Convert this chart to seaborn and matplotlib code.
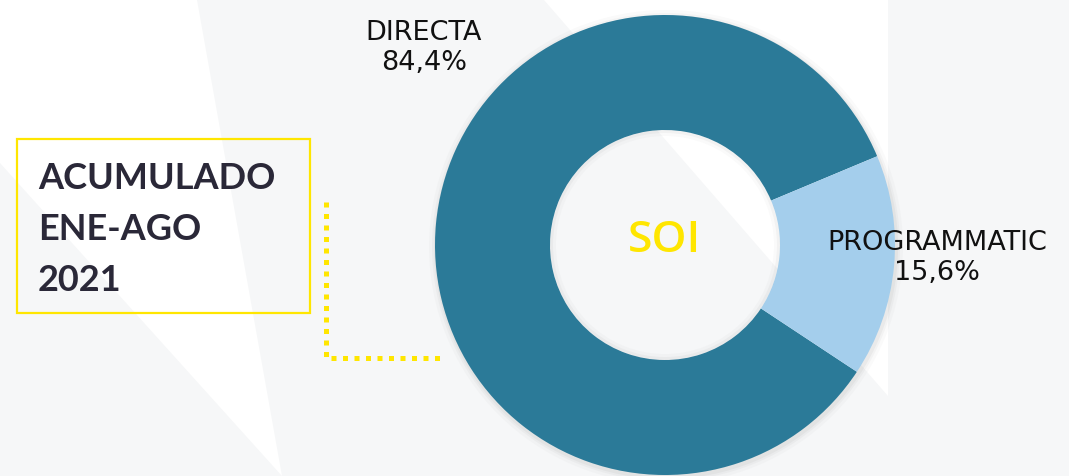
import matplotlib
matplotlib.use("Agg")
import matplotlib.pyplot as plt
import seaborn as sns
from matplotlib.patches import Polygon, Rectangle, Wedge

# data
channels = ["DIRECTA", "PROGRAMMATIC"]
shares = [84.4, 15.6]
share_labels = ["84,4%", "15,6%"]
center_label = "SOI"
period_lines = ["ACUMULADO", "ENE-AGO", "2021"]

W, H = 1069, 476


def fy(y):
    # pixel row (from top) -> data y
    return H - y


sns.set_theme(style="white")
plt.rcParams["font.family"] = ["DejaVu Sans"]

ring_colors = sns.color_palette(["#2B7A98", "#A4CEEC"])
yellow = "#FFE600"

fig = plt.figure(figsize=(W / 100, H / 100), dpi=100)
fig.patch.set_facecolor("#F6F7F8")
ax = fig.add_axes([0, 0, 1, 1])
ax.set_facecolor("#F6F7F8")

# background light streaks
bg_white = [
    [(0, fy(0)), (197, fy(0)), (282, fy(476)), (0, fy(163))],
    [(544, fy(0)), (888, fy(0)), (888, fy(396))],
]
for pts in bg_white:
    ax.add_patch(Polygon(pts, closed=True, facecolor="white", edgecolor="none", zorder=0))

cx, cy, r_out, ring_w = 665, fy(245), 230, 115

# soft shadow around the ring
for k, a in [(7, 0.035), (4, 0.05), (2, 0.07)]:
    ax.add_patch(Wedge((cx + 1, cy - 2), r_out + k, 0, 360, width=k + 10,
                       facecolor="#7a7a7a", alpha=a, edgecolor="none", zorder=1))

wedges, _ = ax.pie(
    shares,
    colors=ring_colors,
    startangle=22.7,
    counterclock=True,
    radius=r_out,
    center=(cx, cy),
    frame=True,
    wedgeprops=dict(width=ring_w, linewidth=0),
)
for w in wedges:
    w.set_zorder(2)

# inner shadow of the hole
r_in = r_out - ring_w
for k, a in [(3, 0.05), (6, 0.03)]:
    ax.add_patch(Wedge((cx, cy), r_in, 0, 360, width=k, facecolor="#6a6a6a", alpha=a,
                       edgecolor="none", zorder=3))

ax.text(cx, fy(241), center_label, ha="center", va="center", color=yellow,
        fontsize=32, fontweight="semibold", family=["Open Sans", "DejaVu Sans"], zorder=4)

ax.text(424, fy(48), f"{channels[0]}\n{share_labels[0]}", ha="center", va="center",
        fontsize=19.5, color="#111111", linespacing=1.2, zorder=4)
ax.text(937, fy(258), f"{channels[1]}\n{share_labels[1]}", ha="center", va="center",
        fontsize=19.5, color="#111111", linespacing=1.2, zorder=4)

# period box
ax.add_patch(Rectangle((17, fy(313)), 293, 174, facecolor="none", edgecolor=yellow,
                       linewidth=1.6, zorder=4))
for i, line in enumerate(period_lines):
    ax.text(38, fy(189 + 51 * i), line, ha="left", va="baseline", fontsize=26,
            fontweight="bold", color="#2A2838", family=["Lato", "DejaVu Sans"], zorder=4)

# dotted connector
ax.plot([326, 326, 446], [fy(202), fy(358), fy(358)], color=yellow, linewidth=3.6,
        linestyle=(0, (1, 1.3)), solid_capstyle="butt", dash_capstyle="butt", zorder=4)

ax.set_xlim(0, W)
ax.set_ylim(0, H)
ax.set_aspect("equal")
ax.axis("off")

fig.savefig("out.png", dpi=100, facecolor=fig.get_facecolor())
